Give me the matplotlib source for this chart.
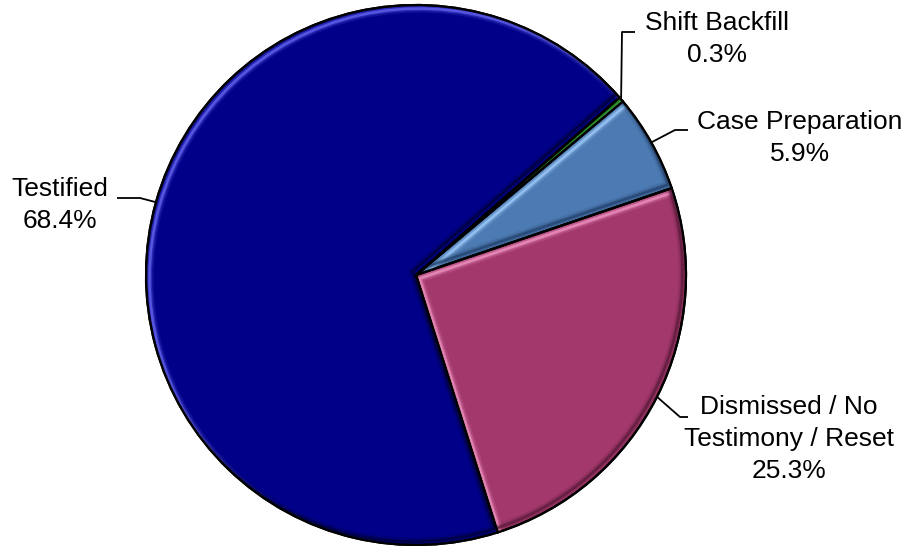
import matplotlib
matplotlib.use("Agg")
import matplotlib.pyplot as plt
import matplotlib.transforms as mtransforms
from matplotlib.patches import PathPatch
import numpy as np

plt.rcParams['font.family'] = ['Liberation Sans', 'DejaVu Sans']

# slice data, in counter-clockwise drawing order
categories = ['Dismissed / No\nTestimony / Reset', 'Case Preparation', 'Shift Backfill', 'Testified']
shares = [25.3, 5.9, 0.3, 68.4]
colors = ['#A3386C', '#4C7AB2', '#168A16', '#000088']
highlights = ['#E68AB8', '#95C2F2', '#6FD86F', '#5A5AE6']
shadows = ['#5A1A3A', '#23416A', '#084808', '#00003C']

# label layout: text centre, elbow and end of the leader line (pixels, y up)
label_pos = [(789, 107), (800, 408), (717, 507), (60, 341)]
elbows = [(680, 129), (675, 416), (622, 514), (140, 348)]
ends = [(688, 129), (688, 416), (635, 514), (117, 348)]

W, H = 909, 546
cx, cy, r = 416, 271, 270
start = -72.4

fig = plt.figure(figsize=(W / 100, H / 100), dpi=100)
ax = fig.add_axes([0, 0, 1, 1])

wedges, _ = ax.pie(shares, colors=colors, startangle=start, counterclock=True,
                   center=(cx, cy), radius=r, frame=True,
                   wedgeprops=dict(edgecolor='black', linewidth=1.6))
ax.set_xlim(0, W)
ax.set_ylim(0, H)
ax.set_aspect('equal')
ax.axis('off')

# bevel: light rim on upper-left edges, dark rim on lower-right edges
for w, hi, sh in zip(wedges, highlights, shadows):
    path = w.get_path()
    for (dx, dy), col, alpha in [((3.5, -3.5), hi, 0.9), ((-3.5, 3.5), sh, 0.7)]:
        for lw, a in [(6, 0.2), (3.5, 0.4), (1.8, 1.0)]:
            p = PathPatch(path, transform=w.get_transform() + mtransforms.Affine2D().translate(dx, dy),
                          facecolor='none', edgecolor=col, linewidth=lw, alpha=alpha * a)
            ax.add_patch(p)
            p.set_clip_path(w)
    # redraw the black outline on top
    ax.add_patch(PathPatch(path, transform=w.get_transform(), facecolor='none',
                           edgecolor='black', linewidth=1.6))

total = sum(shares)
theta = start
for w, name, val, pos, elb, end in zip(wedges, categories, shares, label_pos, elbows, ends):
    mid = np.deg2rad(theta + 360 * val / total / 2)
    theta += 360 * val / total
    edge_pt = (cx + r * np.cos(mid), cy + r * np.sin(mid))
    ax.plot([edge_pt[0], elb[0], end[0]], [edge_pt[1], elb[1], end[1]],
            color='black', linewidth=1.3, solid_capstyle='butt')
    ax.text(pos[0], pos[1], f"{name}\n{val:.1f}%", ha='center', va='center',
            multialignment='center', fontsize=19, linespacing=1.4, color='black')

fig.savefig('out.png', dpi=100, facecolor='white')
